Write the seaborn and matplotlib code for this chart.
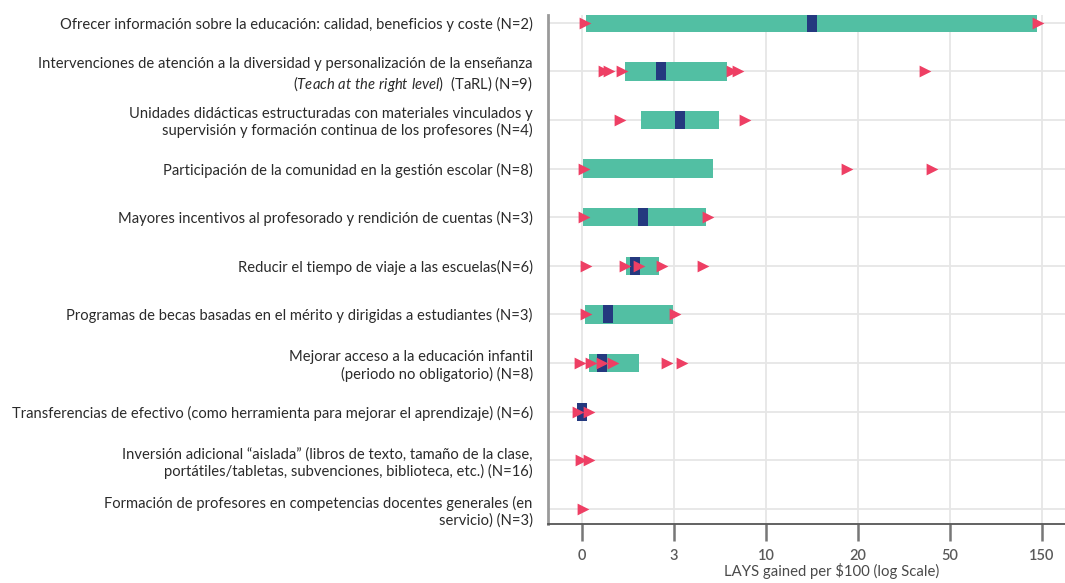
import numpy as np
import pandas as pd
import matplotlib
matplotlib.use("Agg")
import matplotlib.pyplot as plt
from matplotlib.path import Path
import seaborn as sns

# --- data -------------------------------------------------------------
categories = [
    "Ofrecer información sobre la educación: calidad, beneficios y coste (N=2)",
    "Intervenciones de atención a la diversidad y personalización de la enseñanza\n"
    r"($\mathit{Teach\ at\ the\ right\ level}$)  (TaRL) (N=9)",
    "Unidades didácticas estructuradas con materiales vinculados y\n"
    "supervisión y formación continua de los profesores (N=4)",
    "Participación de la comunidad en la gestión escolar (N=8)",
    "Mayores incentivos al profesorado y rendición de cuentas (N=3)",
    "Reducir el tiempo de viaje a las escuelas(N=6)",
    "Programas de becas basadas en el mérito y dirigidas a estudiantes (N=3)",
    "Mejorar acceso a la educación infantil\n(periodo no obligatorio) (N=8)",
    "Transferencias de efectivo (como herramienta para mejorar el aprendizaje) (N=6)",
    "Inversión adicional “aislada” (libros de texto, tamaño de la clase,\n"
    "portátiles/tabletas, subvenciones, biblioteca, etc.) (N=16)",
    "Formación de profesores en competencias docentes generales (en\nservicio) (N=3)",
]

range_low = [0.12, 1.40, 1.92, 0.04, 0.04, 1.43, 0.10, 0.24, np.nan, np.nan, np.nan]
range_high = [145.0, 7.0, 6.42, 6.0, 5.4, 2.51, 2.98, 1.84, np.nan, np.nan, np.nan]
medians = [15.0, 2.59, 3.43, np.nan, 2.0, 1.71, 0.85, 0.65, 0.0, np.nan, np.nan]

estimates = [
    [0.08, 145.7],
    [0.70, 0.88, 1.30, 7.4, 7.85, 42.0],
    [1.24, 8.4],
    [0.07, 18.8, 44.0],
    [0.07, 5.6],
    [0.13, 1.40, 1.84, 2.62, 5.23],
    [0.13, 3.04],
    [-0.08, 0.28, 0.64, 1.02, 2.76, 3.58],
    [-0.12, 0.24],
    [-0.05, 0.24],
    [0.04],
]

tick_values = [0, 3, 10, 20, 50, 150]
tick_labels = ["0", "3", "10", "20", "50", "150"]
x_label = "LAYS gained per $100 (log Scale)"

# --- styling ----------------------------------------------------------
TEAL = "#52bfa3"
NAVY = "#24397f"
PINK = "#ee3f64"
GRID = "#e6e6e6"

sns.set_theme(style="white")
plt.rcParams["font.family"] = ["Lato", "DejaVu Sans"]
plt.rcParams["mathtext.fontset"] = "custom"
plt.rcParams["mathtext.rm"] = "Lato"
plt.rcParams["mathtext.it"] = "Lato:italic"

# Compressed axis: equal spacing between the labelled ticks
tv = np.array(tick_values, dtype=float)
tp = np.arange(len(tv), dtype=float)


def forward(x):
    x = np.asarray(x, dtype=float)
    p = np.interp(x, tv, tp)
    p = np.where(x < tv[0], (x - tv[0]) / (tv[1] - tv[0]), p)
    p = np.where(x > tv[-1], tp[-1] + (x - tv[-1]) / (tv[-1] - tv[-2]), p)
    return p


def inverse(p):
    p = np.asarray(p, dtype=float)
    x = np.interp(p, tp, tv)
    x = np.where(p < tp[0], tv[0] + p * (tv[1] - tv[0]), x)
    x = np.where(p > tp[-1], tv[-1] + (p - tp[-1]) * (tv[-1] - tv[-2]), x)
    return x


fig = plt.figure(figsize=(10.65, 5.83), dpi=100)
ax = fig.add_axes([0.5146, 0.1012, 0.4854, 0.8731])
ax.set_xscale("function", functions=(forward, inverse))

ypos = np.arange(len(categories))

# grid
for v in tick_values:
    ax.axvline(v, color=GRID, lw=1.3, zorder=0)
for y in ypos:
    ax.axhline(y, color=GRID, lw=1.3, zorder=0)

# range bars
lo = np.array(range_low)
hi = np.array(range_high)
ok = ~np.isnan(lo)
ax.barh(ypos[ok], hi[ok] - lo[ok], left=lo[ok], height=0.38,
        color=TEAL, edgecolor="none", zorder=2)

# individual estimates
pts = pd.DataFrame(
    [(v, i) for i, vals in enumerate(estimates) for v in vals],
    columns=["value", "row"],
)
sns.scatterplot(data=pts, x="value", y="row", marker=">", s=72,
                color=PINK, linewidth=0, zorder=4, ax=ax, legend=False)

# medians
med = pd.DataFrame({"value": medians, "row": ypos}).dropna()
median_marker = Path([(-5, -9.5), (5, -9.5), (5, 9.5), (-5, 9.5), (-5, -9.5)],
                     [Path.MOVETO, Path.LINETO, Path.LINETO, Path.LINETO,
                      Path.CLOSEPOLY])
sns.scatterplot(data=med, x="value", y="row", marker=median_marker, s=185,
                color=NAVY, linewidth=0, zorder=3, ax=ax, legend=False)

# axes
ax.set_xlim(inverse(-0.37), inverse(5.25))
ax.set_ylim(10.31, -0.16)
ax.set_xticks(tick_values)
ax.set_xticklabels(tick_labels, fontweight="semibold")
ax.xaxis.set_minor_locator(matplotlib.ticker.NullLocator())
ax.set_yticks(ypos)
ax.set_yticklabels(categories, fontsize=10.6, color="#2a2a2a",
                   linespacing=1.2)
ax.tick_params(axis="y", length=0, pad=11)
ax.tick_params(axis="x", length=12, width=1.8, color="#777777",
               labelsize=10.5, labelcolor="#5a5a5a", pad=6, bottom=True)

ax.set_xlabel(x_label, fontsize=10.7, color="#4a4a4a")
ax.xaxis.set_label_coords(0.548, -0.077)
ax.set_ylabel("")

for side in ("top", "right"):
    ax.spines[side].set_visible(False)
ax.spines["left"].set_color("#9a9a9a")
ax.spines["left"].set_linewidth(2)
ax.spines["bottom"].set_color("#555555")
ax.spines["bottom"].set_linewidth(1.3)

fig.savefig("out.png", dpi=100)
